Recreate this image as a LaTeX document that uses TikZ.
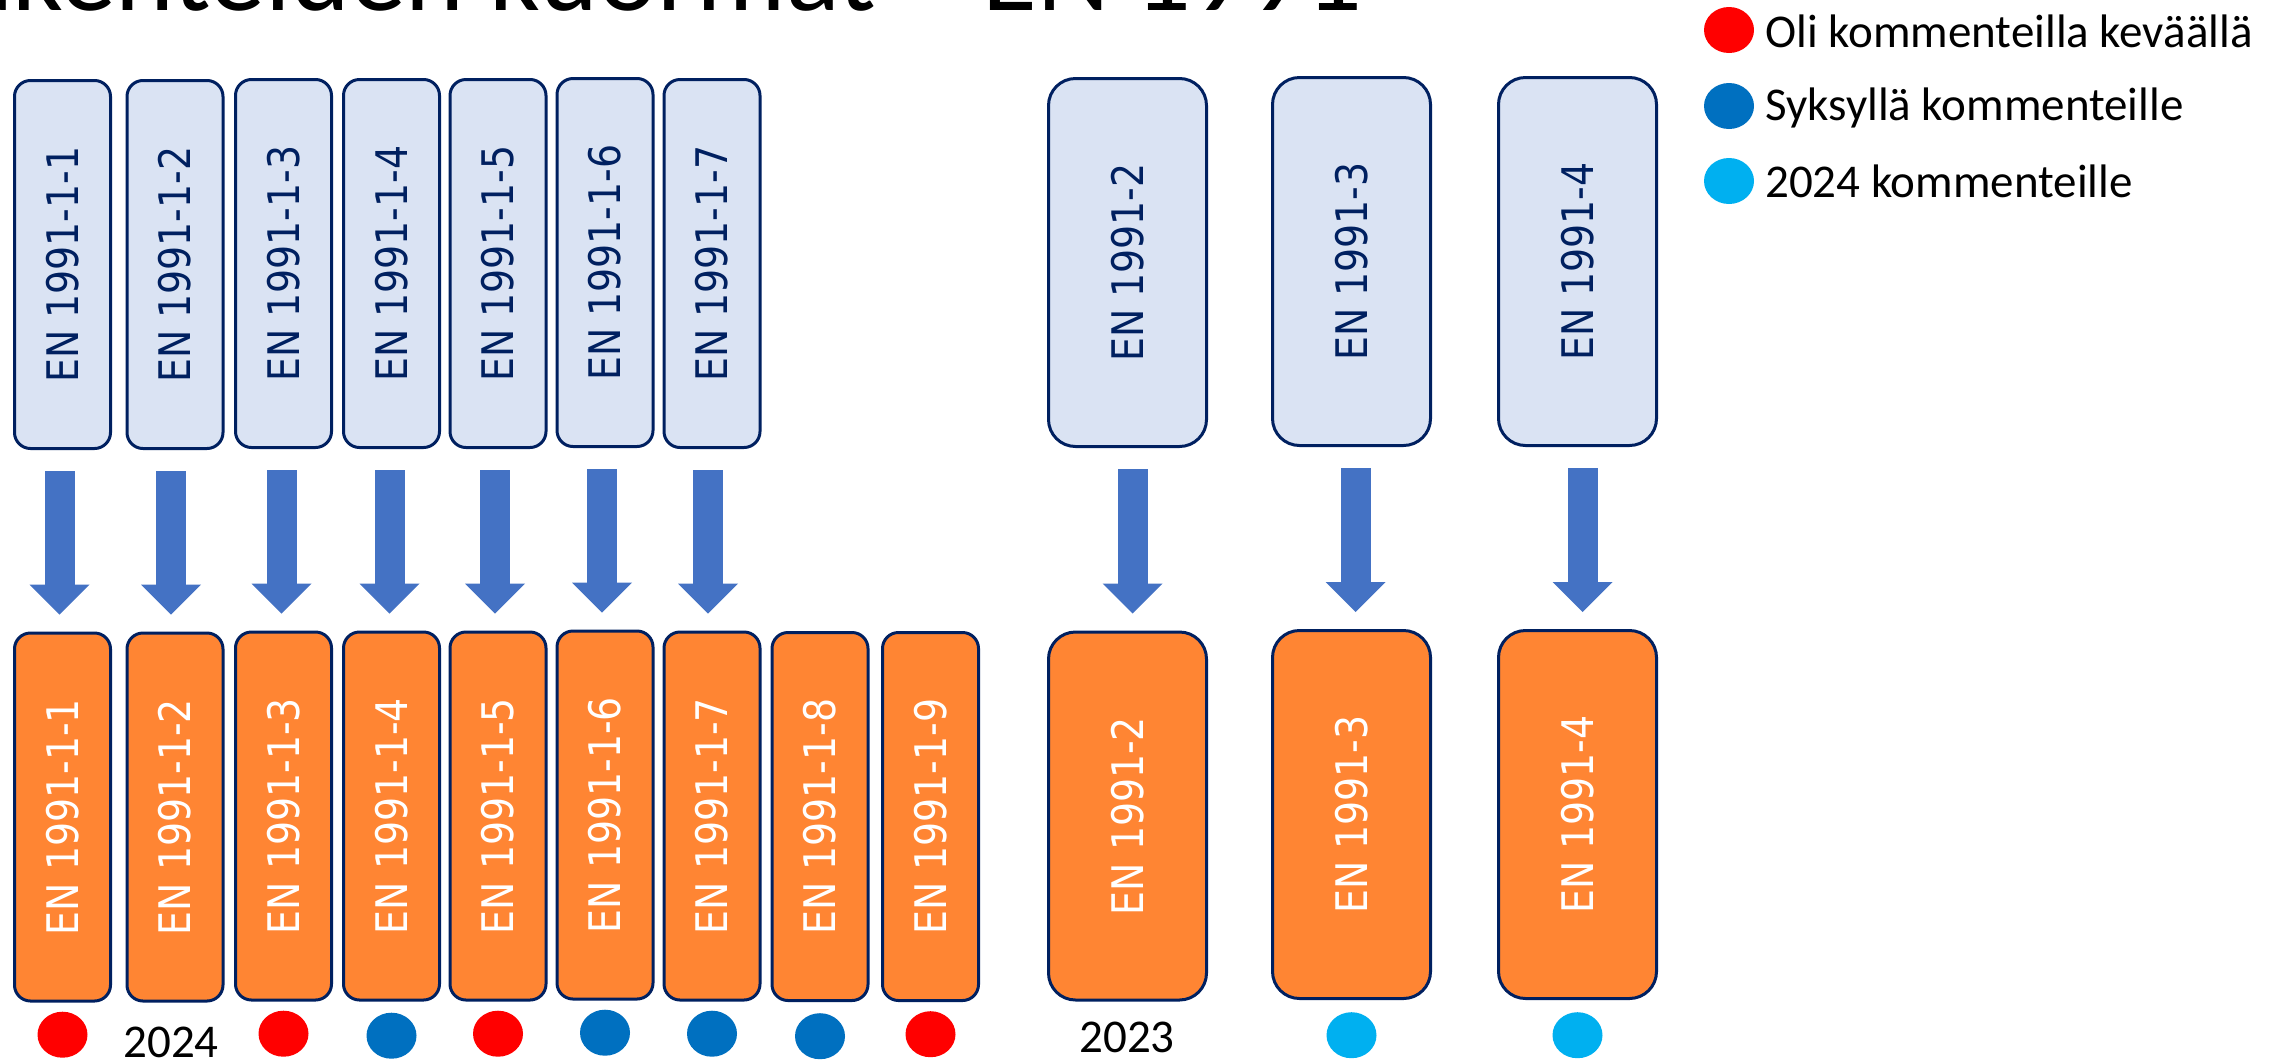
\documentclass[tikz,border=0pt]{standalone}
\usepackage{graphicx}
\usepackage{fontspec}
\setmainfont{Carlito}
\newfontfamily\boxfont[FakeStretch=0.87]{DejaVu Sans}
\usetikzlibrary{arrows.meta,shapes.geometric,positioning}
\definecolor{topfill}{HTML}{DAE3F3}
\definecolor{navy}{HTML}{002060}
\definecolor{orng}{HTML}{FF8533}
\definecolor{arrowblue}{HTML}{4472C4}
\definecolor{cred}{HTML}{FF0000}
\definecolor{cblue}{HTML}{0070C0}
\definecolor{clight}{HTML}{00B0F0}
\begin{document}
\begin{tikzpicture}[x=1pt,y=-1pt,
  box/.style={draw=navy, line width=3pt, rounded corners=16pt, minimum width=96pt,
    minimum height=368pt, inner sep=0pt, font=\boxfont\fontsize{43.5}{50}\selectfont},
  bigbox/.style={box, rounded corners=27pt, minimum width=158pt},
  src/.style={fill=topfill, text=navy},
  dst/.style={fill=orng, text=white},
  blockarrow/.style={draw=arrowblue, line width=30pt,
    -{Triangle[width=60pt,length=30pt,line width=0pt]}},
  dot/.style={ellipse, minimum width=50pt, minimum height=46pt, inner sep=0pt},
  legtext/.style={anchor=base west, inner sep=0pt, font=\fontsize{47}{50}\selectfont},
  yeartext/.style={anchor=base, inner sep=0pt, font=\fontsize{47}{50}\selectfont}]
\useasboundingbox (0,0) rectangle (2290,1061);
\fill[white] (0,0) rectangle (2290,1061);

% title (cut off at the top)
\node[anchor=base west, inner sep=0pt, font=\fontsize{112}{120}\selectfont] (title)
  at (-102,10) {Rakenteiden kuormat – EN 1991};

% top row
\node[box,src] (t1) at (62.5,264.5) {\rotatebox{90}{EN 1991-1-1}};
\node[box,src] (t2) at (175,264.5) {\rotatebox{90}{EN 1991-1-2}};
\node[box,src] (t3) at (283.5,263.5) {\rotatebox{90}{EN 1991-1-3}};
\node[box,src] (t4) at (391.5,263.5) {\rotatebox{90}{EN 1991-1-4}};
\node[box,src] (t5) at (498,263.5) {\rotatebox{90}{EN 1991-1-5}};
\node[box,src] (t6) at (605,262.5) {\rotatebox{90}{EN 1991-1-6}};
\node[box,src] (t7) at (712,263.5) {\rotatebox{90}{EN 1991-1-7}};
\node[bigbox,src] (t10) at (1127.5,262.5) {\rotatebox{90}{EN 1991-2}};
\node[bigbox,src] (t11) at (1351.5,261.5) {\rotatebox{90}{EN 1991-3}};
\node[bigbox,src] (t12) at (1577.5,261.5) {\rotatebox{90}{EN 1991-4}};

% bottom row
\node[box,dst] (b1) at (62.5,817) {\rotatebox{90}{EN 1991-1-1}};
\node[box,dst] (b2) at (175,817) {\rotatebox{90}{EN 1991-1-2}};
\node[box,dst] (b3) at (283.5,816) {\rotatebox{90}{EN 1991-1-3}};
\node[box,dst] (b4) at (391.5,816) {\rotatebox{90}{EN 1991-1-4}};
\node[box,dst] (b5) at (498,816) {\rotatebox{90}{EN 1991-1-5}};
\node[box,dst] (b6) at (605,815) {\rotatebox{90}{EN 1991-1-6}};
\node[box,dst] (b7) at (712,816) {\rotatebox{90}{EN 1991-1-7}};
\node[box,dst] (b8) at (820,816.5) {\rotatebox{90}{EN 1991-1-8}};
\node[box,dst] (b9) at (930.5,816.5) {\rotatebox{90}{EN 1991-1-9}};
\node[bigbox,dst] (b10) at (1127.5,816) {\rotatebox{90}{EN 1991-2}};
\node[bigbox,dst] (b11) at (1351.5,814.5) {\rotatebox{90}{EN 1991-3}};
\node[bigbox,dst] (b12) at (1577.5,814.5) {\rotatebox{90}{EN 1991-4}};

% arrows
\foreach \i/\dx in {1/-3,2/-4,3/-2,4/-2,5/-3,6/-3,7/-4,10/5,11/4,12/5}{
  \draw[blockarrow] ([xshift=\dx pt,yshift=-21pt]t\i.south) -- ([xshift=\dx pt,yshift=17pt]b\i.north);
}

% status dots
\node[dot,fill=cred,below=9pt of b1] (d1) {};
\node[yeartext] (y2024) at (171,1057) {2024};
\node[dot,fill=cred,below=9pt of b3] (d3) {};
\node[dot,fill=cblue,below=11pt of b4] (d4) {};
\node[dot,fill=cred,below=9pt of b5] (d5) {};
\node[dot,fill=cblue,below=9pt of b6] (d6) {};
\node[dot,fill=cblue,below=9pt of b7] (d7) {};
\node[dot,fill=cblue,below=11pt of b8] (d8) {};
\node[dot,fill=cred,below=9pt of b9] (d9) {};
\node[yeartext] (y2023) at (1127,1052) {2023};
\node[dot,fill=clight,below=12pt of b11] (d11) {};
\node[dot,fill=clight,below=12pt of b12] (d12) {};

% legend
\node[dot,fill=cred] (l1) at (1729,30) {};
\node[legtext] (lt1) at (1765,47) {Oli kommenteilla keväällä};
\node[dot,fill=cblue] (l2) at (1729,106) {};
\node[legtext] (lt2) at (1765,120) {Syksyllä kommenteille};
\node[dot,fill=clight] (l3) at (1729,181) {};
\node[legtext] (lt3) at (1765,197) {2024 kommenteille};
\end{tikzpicture}
\end{document}
